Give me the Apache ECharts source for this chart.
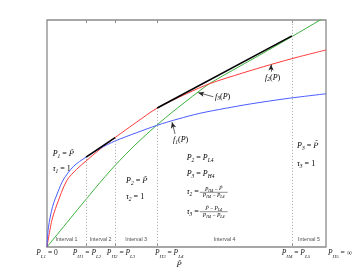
<!DOCTYPE html>
<html><head><meta charset="utf-8">
<script src="https://cdn.jsdelivr.net/npm/echarts@6/dist/echarts.min.js"></script>
<style>html,body{margin:0;padding:0;background:#fff}#c{width:360px;height:279px}</style>
</head><body><div id="c"></div>
<script>
// ---------------- data ----------------
const tickValues = [0, 1.40, 2.44, 3.95, 8.78];
const labelValues = [0, 1.40, 2.44, 3.95, 8.78, 10];
const tickLabels = ['P_{L1} = 0', 'P_{H1} = P_{L2}', 'P_{H2} = P_{L3}', 'P_{H3} = P_{L4}', 'P_{H4} = P_{L5}', 'P_{H5} = \u221e'];
const intervalBounds = [0, 1.40, 2.44, 3.95, 8.78, 10];
const intervalNames = ['Interval 1', 'Interval 2', 'Interval 3', 'Interval 4', 'Interval 5'];
const f1Points = [[0,0],[0.05,0.85],[0.2,1.78],[0.4,2.45],[0.58,2.95],[0.94,3.54],[1.4,3.96],[1.9,4.34],[2.44,4.67],[3.2,5.03],[3.97,5.37],[4.7,5.64],[5.48,5.89],[6.4,6.11],[7.28,6.30],[8.6,6.54],[10,6.75]];
const f2Points = [[0,0],[0.17,1.15],[0.35,1.85],[0.71,2.93],[1.06,3.42],[1.4,3.79],[1.9,4.31],[2.44,4.82],[3.2,5.49],[3.95,6.12],[5,6.75],[5.84,7.2],[7,7.66],[8,8.03],[9,8.37],[10,8.68]];
const f3Points = [[0,0],[1.54,2.31],[2.26,3.35],[2.98,4.28],[3.69,5.10],[4.41,5.86],[5.48,6.89],[5.84,7.21],[6.92,7.97],[7.63,8.46],[8.78,9.27],[9.79,10.0],[10,10.15]];
const blackSeg1 = [[1.40,3.96],[2.44,4.82]];
const blackSeg2 = [[3.95,6.12],[8.78,9.30]];
const guideTops = [3.96, 4.82, 6.12, 10];
const f1Arrow = [[4.59,4.98],[4.48,5.50]];
const f2Arrow = [[8.03,7.72],[8.03,8.04]];
const f3Arrow = [[5.96,6.62],[5.42,6.80]];

// ---------------- helpers ----------------
const SERIF = 'Liberation Serif';
const INK = '#222';
function tex(s, k) {
  let out = '', i = 0;
  const isIt = c => /[A-Za-z\u03c4]/.test(c);
  while (i < s.length) {
    if (s[i] === '_') { const j = s.indexOf('}', i); out += '{s' + k + '|' + s.slice(i + 2, j) + '}'; i = j + 1; continue; }
    if (s[i + 1] === '\u0304') { out += '{j' + k + '|' + s.slice(i, i + 2) + '}'; i += 2; continue; }
    const it = isIt(s[i]); let j = i;
    while (j < s.length && s[j] !== '_' && s[j + 1] !== '\u0304' && isIt(s[j]) === it) j++;
    if (j === i) j = i + 1;
    out += '{' + (it ? 'i' : 'r') + k + '|' + s.slice(i, j) + '}'; i = j;
  }
  return out;
}
function richSet(k, main, sub, lh) {
  const o = {};
  o['i' + k] = {fontFamily: SERIF, fontStyle: 'italic', fontSize: main, lineHeight: lh, verticalAlign: 'middle', color: INK};
  o['j' + k] = {fontFamily: 'DejaVu Serif', fontStyle: 'italic', fontSize: main * 0.92, lineHeight: lh, verticalAlign: 'middle', color: INK};
  o['r' + k] = {fontFamily: SERIF, fontSize: main, lineHeight: lh, verticalAlign: 'middle', color: INK};
  o['s' + k] = {fontFamily: SERIF, fontStyle: 'italic', fontSize: sub, lineHeight: sub + 1, verticalAlign: 'bottom', color: INK};
  return o;
}
const richA = Object.assign(richSet('a', 7.5, 5, 9), {g0:{width:0}, g2:{width:2}, g8:{width:8}, g12:{width:12}, g24:{width:24}, g28:{width:28}});
const richB = richSet('b', 8, 5.5, 11);
const richC = richSet('c', 5.5, 4, 7);
const gapKeys = ['g0', 'g2', 'g12', 'g24', 'g8', 'g28'];

function mathText(x, y, s, align) {
  return {type: 'text', x: x, y: y, silent: true, style: {text: tex(s, 'b'), rich: richB, align: align || 'left', verticalAlign: 'middle'}};
}
function fracBlock(x, y, lhs, num, den) {
  const fx = x + 27;
  return [
    mathText(x, y, lhs),
    {type: 'text', x: fx, y: y - 3.2, silent: true, style: {text: tex(num, 'c'), rich: richC, align: 'center', verticalAlign: 'middle'}},
    {type: 'line', silent: true, shape: {x1: fx - 14, y1: y, x2: fx + 14, y2: y}, style: {stroke: INK, lineWidth: 0.5}},
    {type: 'text', x: fx, y: y + 3.6, silent: true, style: {text: tex(den, 'c'), rich: richC, align: 'center', verticalAlign: 'middle'}}
  ];
}
function arrow(pts) {
  return [{coord: pts[0]}, {coord: pts[1]}];
}

const intervalData = intervalNames.map((n, i) => [(intervalBounds[i] + intervalBounds[i + 1]) / 2, 0.31, n]);
const guideData = tickValues.slice(1).map((v, i) => [{coord: [v, 0]}, {coord: [v, guideTops[i]]}]);

const chart = echarts.init(document.getElementById('c'), null, {renderer: 'canvas'});
chart.setOption({
  animation: false,
  backgroundColor: '#fff',
  grid: {left: 47, right: 34, top: 20, bottom: 32, show: true, borderColor: '#8a8a8a', borderWidth: 1.3, backgroundColor: 'transparent'},
  xAxis: [
    {type: 'value', min: 0, max: 10, position: 'bottom',
     axisLine: {show: false}, splitLine: {show: false},
     axisTick: {show: true, inside: true, length: 3, customValues: tickValues, lineStyle: {color: '#8a8a8a', width: 1}},
     axisLabel: {show: true, margin: 0, customValues: labelValues, rich: richA,
       formatter: function (v) {
         let idx = labelValues.findIndex(t => Math.abs(t - v) < 1e-6);
         if (idx < 0) return '';
         return '{' + gapKeys[idx] + '|\u200b}' + tex(tickLabels[idx], 'a');
       }}},
    {type: 'value', min: 0, max: 10, position: 'top',
     axisLine: {show: false}, splitLine: {show: false}, axisLabel: {show: false},
     axisTick: {show: true, inside: true, length: 3, customValues: tickValues.slice(1), lineStyle: {color: '#8a8a8a', width: 1}}}
  ],
  yAxis: {type: 'value', min: 0, max: 10, axisLine: {show: false}, axisTick: {show: false}, axisLabel: {show: false}, splitLine: {show: false}},
  series: [
    {name: 'f3', type: 'line', data: f3Points, smooth: 0.3, showSymbol: false, symbol: 'none', clip: true,
     lineStyle: {color: '#3cb03c', width: 1},
     markLine: {silent: true, symbol: ['none', 'none'], label: {show: false},
       lineStyle: {color: '#b4b4b4', type: [1.2, 1.8], width: 1}, data: guideData}},
    {name: 'f2', type: 'line', data: f2Points, smooth: 0.3, showSymbol: false, symbol: 'none', clip: true,
     lineStyle: {color: '#ff3a3a', width: 1}},
    {name: 'f1', type: 'line', data: f1Points, smooth: 0.3, showSymbol: false, symbol: 'none', clip: true,
     lineStyle: {color: '#4a5cff', width: 1}},
    {name: 'b1', type: 'line', data: blackSeg1, showSymbol: false, symbol: 'none', lineStyle: {color: '#000', width: 1.6}, z: 5},
    {name: 'b2', type: 'line', data: blackSeg2, showSymbol: false, symbol: 'none', lineStyle: {color: '#000', width: 1.6}, z: 5,
     markLine: {silent: true, symbol: ['none', 'arrow'], symbolSize: [4, 6], label: {show: false},
       lineStyle: {color: '#222', type: 'solid', width: 0.7},
       data: [arrow(f1Arrow), arrow(f2Arrow), arrow(f3Arrow)]}},
    {name: 'intervals', type: 'scatter', data: intervalData, symbolSize: 0, silent: true,
     label: {show: true, position: 'inside', formatter: p => p.data[2], fontFamily: 'Liberation Sans', fontSize: 5.3, color: '#222'}}
  ],
  graphic: [
    mathText(52.7, 154, 'P_{1} = P\u0304'),
    mathText(52.7, 169, '\u03c4_{1} = 1'),
    mathText(126, 181, 'P_{2} = P\u0304'),
    mathText(126, 197, '\u03c4_{2} = 1'),
    mathText(186.7, 158, 'P_{2} = P_{L4}'),
    mathText(186.7, 174, 'P_{3} = P_{H4}'),
    ...fracBlock(186.7, 192.3, '\u03c4_{2} =', 'P_{H4} \u2212 P\u0304', 'P_{H4} \u2212 P_{L4}'),
    ...fracBlock(186.7, 211.7, '\u03c4_{3} =', 'P\u0304 \u2212 P_{L4}', 'P_{H4} \u2212 P_{L4}'),
    mathText(297, 145.7, 'P_{3} = P\u0304'),
    mathText(297, 164.3, '\u03c4_{3} = 1'),
    mathText(173, 140, 'f_{1}(P)'),
    mathText(215, 96.5, 'f_{3}(P)'),
    mathText(265, 77.5, 'f_{2}(P)'),
    mathText(179, 265, 'P\u0304', 'center')
  ]
});
</script>
</body></html>
